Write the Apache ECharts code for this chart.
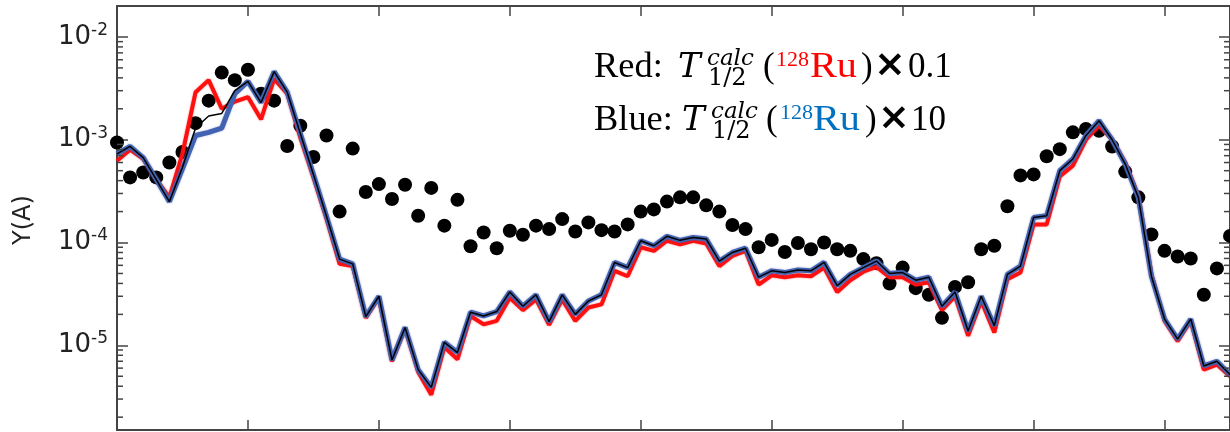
<!DOCTYPE html>
<html><head><meta charset="utf-8">
<script src="https://cdn.jsdelivr.net/npm/echarts@6.0.0/dist/echarts.min.js"></script>
<style>html,body{margin:0;padding:0;background:#fff}#c{width:1230px;height:432px}</style>
</head><body><div id="c"></div><script>
// ---- data ----
const massNumbers = [70,71,72,73,74,75,76,77,78,79,80,81,82,83,84,85,86,87,88,89,90,91,92,93,94,95,96,97,98,99,
  100,101,102,103,104,105,106,107,108,109,110,111,112,113,114,115,116,117,118,119,120,121,122,123,124,125,126,127,128,129,
  130,131,132,133,134,135,136,137,138,139,140,141,142,143,144,145,146,147,148,149,150,151,152,153,154,155];

const observedY = [9.4e-4,4.3e-4,4.8e-4,4.3e-4,6.0e-4,7.6e-4,1.45e-3,2.4e-3,4.5e-3,3.8e-3,
  4.8e-3,2.8e-3,2.4e-3,8.7e-4,1.37e-3,6.8e-4,1.1e-3,2.0e-4,8.2e-4,3.1e-4,
  3.7e-4,2.65e-4,3.65e-4,1.82e-4,3.4e-4,1.46e-4,2.6e-4,9.2e-5,1.25e-4,8.8e-5,
  1.3e-4,1.19e-4,1.46e-4,1.35e-4,1.69e-4,1.28e-4,1.57e-4,1.32e-4,1.28e-4,1.5e-4,
  2.0e-4,2.1e-4,2.5e-4,2.75e-4,2.75e-4,2.3e-4,2.0e-4,1.48e-4,1.35e-4,9.0e-5,
  1.06e-4,8.1e-5,9.9e-5,8.6e-5,1.0e-4,8.6e-5,8.3e-5,6.9e-5,6.3e-5,4.0e-5,
  5.7e-5,3.6e-5,3.1e-5,1.85e-5,3.7e-5,4.1e-5,8.6e-5,9.3e-5,2.25e-4,4.5e-4,
  4.6e-4,6.9e-4,8.1e-4,1.18e-3,1.27e-3,1.22e-3,8.6e-4,4.9e-4,2.75e-4,1.2e-4,
  8.3e-5,7.3e-5,7.0e-5,3.1e-5,5.6e-5,1.16e-4];

const calcRed = [6.25e-4,8.0e-4,6.5e-4,4.1e-4,2.75e-4,7.3e-4,2.9e-3,3.8e-3,2.0e-3,2.35e-3,
  2.6e-3,1.58e-3,3.9e-3,2.8e-3,1.05e-3,4.3e-4,1.7e-4,6.2e-5,5.9e-5,1.85e-5,
  2.9e-5,7.0e-6,1.45e-5,5.5e-6,3.3e-6,9.6e-6,7.3e-6,1.93e-5,1.6e-5,1.73e-5,
  2.9e-5,2.2e-5,2.8e-5,1.58e-5,2.8e-5,1.73e-5,2.33e-5,2.5e-5,5.3e-5,4.7e-5,
  9.0e-5,8.3e-5,1.04e-4,9.6e-5,1.04e-4,9.8e-5,5.9e-5,7.4e-5,8.3e-5,3.9e-5,
  4.8e-5,4.6e-5,4.8e-5,4.7e-5,5.7e-5,3.3e-5,4.3e-5,5.2e-5,5.8e-5,4.6e-5,
  4.6e-5,3.9e-5,4.1e-5,2.2e-5,3.0e-5,1.24e-5,2.7e-5,1.33e-5,4.4e-5,5.1e-5,
  1.5e-4,1.5e-4,4.4e-4,5.6e-4,1.0e-3,1.37e-3,1.0e-3,6.0e-4,2.85e-4,4.9e-5,
  1.73e-5,1.1e-5,1.73e-5,5.8e-6,6.5e-6,5.0e-6];

const calcBlue = [7.3e-4,8.6e-4,6.7e-4,4.1e-4,2.5e-4,5.2e-4,1.1e-3,1.18e-3,1.3e-3,2.8e-3,
  3.7e-3,2.3e-3,4.6e-3,2.9e-3,1.15e-3,4.6e-4,1.8e-4,6.9e-5,6.2e-5,1.9e-5,
  3.0e-5,7.2e-6,1.49e-5,5.8e-6,3.9e-6,1.07e-5,8.5e-6,2.1e-5,1.93e-5,2.13e-5,
  3.3e-5,2.4e-5,3.1e-5,1.7e-5,3.1e-5,2.0e-5,2.7e-5,3.1e-5,6.4e-5,5.7e-5,
  1.04e-4,9.3e-5,1.15e-4,1.05e-4,1.12e-4,1.08e-4,6.6e-5,8.0e-5,8.8e-5,4.6e-5,
  5.3e-5,5.1e-5,5.4e-5,5.3e-5,6.4e-5,3.8e-5,4.9e-5,5.7e-5,6.6e-5,5.0e-5,
  5.1e-5,4.3e-5,4.6e-5,2.4e-5,3.3e-5,1.38e-5,3.0e-5,1.55e-5,4.9e-5,5.9e-5,
  1.75e-4,1.82e-4,5.0e-4,6.5e-4,1.1e-3,1.53e-3,1.0e-3,5.8e-4,2.75e-4,4.7e-5,
  1.8e-5,1.15e-5,1.8e-5,6.3e-6,7.0e-6,5.2e-6];

const calcBlack = [7.3e-4,8.6e-4,6.7e-4,4.1e-4,2.5e-4,5.4e-4,1.3e-3,1.7e-3,1.8e-3,3.0e-3,
  3.7e-3,2.3e-3,4.6e-3,2.9e-3,1.15e-3,4.6e-4,1.8e-4,6.9e-5,6.2e-5,1.9e-5,
  3.0e-5,7.2e-6,1.49e-5,5.8e-6,3.9e-6,1.07e-5,8.5e-6,2.1e-5,1.93e-5,2.13e-5,
  3.3e-5,2.4e-5,3.1e-5,1.7e-5,3.1e-5,2.0e-5,2.7e-5,3.1e-5,6.4e-5,5.7e-5,
  1.04e-4,9.3e-5,1.15e-4,1.05e-4,1.12e-4,1.08e-4,6.6e-5,8.0e-5,8.8e-5,4.6e-5,
  5.3e-5,5.1e-5,5.4e-5,5.3e-5,6.4e-5,3.8e-5,4.9e-5,5.7e-5,6.6e-5,5.0e-5,
  5.1e-5,4.3e-5,4.6e-5,2.4e-5,3.3e-5,1.38e-5,3.0e-5,1.55e-5,4.9e-5,5.9e-5,
  1.75e-4,1.82e-4,5.0e-4,6.5e-4,1.1e-3,1.53e-3,1.0e-3,5.8e-4,2.75e-4,4.7e-5,
  1.8e-5,1.15e-5,1.8e-5,6.3e-6,7.0e-6,5.2e-6];

const minorTickValues = [2e-6,3e-6,4e-6,5e-6,6e-6,7e-6,8e-6,9e-6,
  2e-5,3e-5,4e-5,5e-5,6e-5,7e-5,8e-5,9e-5,
  2e-4,3e-4,4e-4,5e-4,6e-4,7e-4,8e-4,9e-4,
  2e-3,3e-3,4e-3,5e-3,6e-3,7e-3,8e-3,9e-3];

const xMin = 70, xMax = 155, xInterval = 10;
const yMin = 1.5e-6, yMax = 2e-2;
const yAxisName = 'Y(A)';

// ---- chart ----
const AX = '#444';
const chart = echarts.init(document.getElementById('c'), null, {renderer: 'canvas'});
const pair = arr => massNumbers.map((a, i) => [a, arr[i]]);

function xAxisCfg(pos) {
  return {
    type: 'value', position: pos, min: xMin, max: xMax, interval: xInterval,
    axisLine: {show: true, onZero: false, lineStyle: {color: AX, width: 2}},
    axisTick: {show: true, inside: true, length: 10, lineStyle: {color: AX, width: 1.5}},
    axisLabel: {show: false}, splitLine: {show: false}
  };
}
function yAxisCfg(pos, labels) {
  return {
    type: 'log', logBase: 10, position: pos, min: yMin, max: yMax,
    axisLine: {show: true, onZero: false, lineStyle: {color: AX, width: 2}},
    axisTick: {show: true, inside: true, length: 11, lineStyle: {color: AX, width: 1.5}},
    splitLine: {show: false}, minorTick: {show: false},
    axisLabel: labels ? {
      show: true, margin: 9,
      formatter: function (v) {
        const e = Math.log10(v), r = Math.round(e);
        if (Math.abs(e - r) > 1e-6) return '';
        return '{b|10}{s|' + r + '}';
      },
      rich: {
        b: {fontSize: 26, fontFamily: 'DejaVu Sans', color: '#222', lineHeight: 30},
        s: {fontSize: 17, fontFamily: 'DejaVu Sans', color: '#222', lineHeight: 13, verticalAlign: 'top'}
      }
    } : {show: false}
  };
}

function txt(x, baseline, text, size, family, color, style, weight, sx) {
  return {
    type: 'text', x: x, y: baseline - 0.34 * size, silent: true, scaleX: sx || 1,
    style: {text: text, fill: color || '#000', font: (style || 'normal') + ' ' + (weight || 'normal') + ' ' + size + 'px ' + family,
      align: 'left', verticalAlign: 'middle'}
  };
}
const SERIF = '"Liberation Serif", "Times New Roman", serif';
const MATH = '"DejaVu Serif", serif';
const B1 = 80, B2 = 133;
const annotation = [
  txt(594, B1, 'Red:', 35, SERIF, '#000', 'normal', 'normal', 1.04),
  txt(678, B1, 'T', 34, MATH, '#000', 'italic'),
  txt(707, B1 - 13, 'calc', 23, MATH, '#000', 'italic'),
  txt(708, B1 + 7, '1/2', 24, MATH),
  txt(763, B1, '(', 35, SERIF),
  txt(776, B1 - 12, '128', 22, SERIF, '#ff0000'),
  txt(810, B1, 'Ru', 35, SERIF, '#ff0000', 'normal', 'normal', 1.15),
  txt(861, B1, ')', 35, SERIF),
  txt(874, B1 - 1, '\u00d7', 38, '"DejaVu Sans"', '#000', 'normal', 'bold'),
  txt(908, B1, '0.1', 35, SERIF),
  txt(594, B2, 'Blue:', 35, SERIF, '#000', 'normal', 'normal', 1.04),
  txt(682, B2, 'T', 34, MATH, '#000', 'italic'),
  txt(711, B2 - 13, 'calc', 23, MATH, '#000', 'italic'),
  txt(712, B2 + 7, '1/2', 24, MATH),
  txt(766, B2, '(', 35, SERIF),
  txt(780, B2 - 12, '128', 22, SERIF, '#0070c0'),
  txt(813, B2, 'Ru', 35, SERIF, '#0070c0', 'normal', 'normal', 1.15),
  txt(865, B2, ')', 35, SERIF),
  txt(878, B2 - 1, '\u00d7', 38, '"DejaVu Sans"', '#000', 'normal', 'bold'),
  txt(911, B2, '10', 35, SERIF)
];

const option = {
  animation: false,
  backgroundColor: '#fff',
  grid: {left: 117, top: 6, width: 1113, height: 424, containLabel: false},
  xAxis: [xAxisCfg('bottom'), xAxisCfg('top')],
  yAxis: [yAxisCfg('left', true), yAxisCfg('right', false)],
  graphic: [
    {type: 'text', x: 24, y: 220, rotation: Math.PI / 2, silent: true,
     style: {text: yAxisName, fill: '#222', font: '24px "DejaVu Sans"', align: 'center', verticalAlign: 'middle'}}
  ].concat(annotation),
  series: [
    {type: 'scatter', data: pair(observedY), symbol: 'circle', symbolSize: 14,
     itemStyle: {color: '#000', opacity: 1}, clip: false, z: 2},
    {type: 'line', data: pair(calcRed), showSymbol: false, clip: true, z: 3,
     lineStyle: {color: '#ff1010', width: 4, shadowColor: 'rgba(255,0,0,0.5)', shadowBlur: 2}},
    {type: 'line', data: pair(calcBlue), showSymbol: false, clip: true, z: 4,
     lineStyle: {color: '#4262b2', width: 5, shadowColor: 'rgba(60,90,170,0.5)', shadowBlur: 2}},
    {type: 'line', data: pair(calcBlack), showSymbol: false, clip: true, z: 5,
     lineStyle: {color: '#000', width: 1.5}},
    {type: 'custom', z: 6, clip: false, silent: true,
     data: minorTickValues.map(v => [xMin, v]),
     encode: {x: 0, y: 1},
     renderItem: function (params, api) {
       const v = api.value(1);
       const pl = api.coord([xMin, v]);
       const pr = api.coord([xMax, v]);
       const st = {stroke: AX, lineWidth: 1.5};
       return {type: 'group', children: [
         {type: 'line', shape: {x1: pl[0], y1: pl[1], x2: pl[0] + 6, y2: pl[1]}, style: st},
         {type: 'line', shape: {x1: pr[0], y1: pr[1], x2: pr[0] - 6, y2: pr[1]}, style: st}
       ]};
     }}
  ]
};
chart.setOption(option);
</script></body></html>
